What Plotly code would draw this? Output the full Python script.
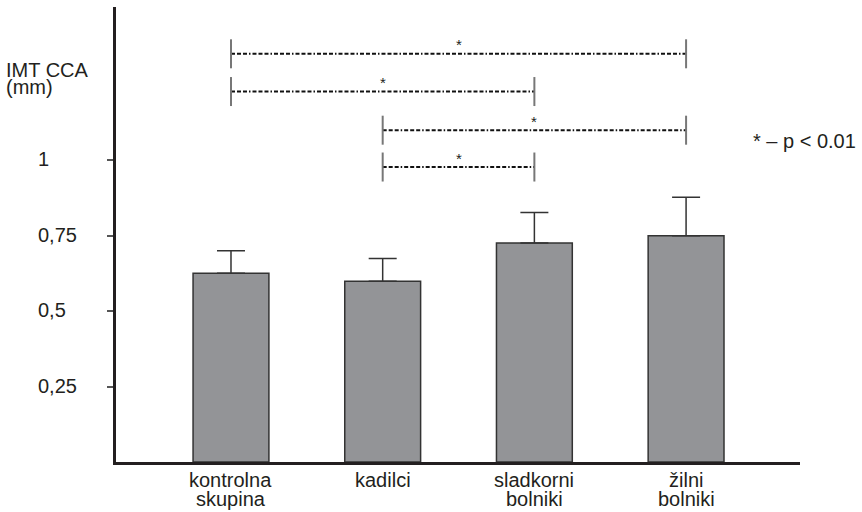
import plotly.graph_objects as go

# ---- data ----
categories = ["kontrolna skupina", "kadilci", "sladkorni bolniki", "žilni bolniki"]
label_lines = [["kontrolna", "skupina"], ["kadilci"], ["sladkorni", "bolniki"], ["žilni", "bolniki"]]
imt_values = [0.625, 0.599, 0.725, 0.749]
imt_errors = [0.075, 0.075, 0.101, 0.128]
y_tick_vals = [0.25, 0.5, 0.75, 1.0]
y_tick_text = ["0,25", "0,5", "0,75", "1"]
sig_pairs = [(0, 3), (0, 2), (1, 3), (1, 2)]
sig_levels = [1.352, 1.227, 1.099, 0.977]
y_title_lines = ["IMT CCA", "(mm)"]
legend_note = "* – p < 0.01"
legend_note_level = 1.064

FONT = "Liberation Sans, Arial, Helvetica, sans-serif"
TXT = "#231f20"
FS = 20

fig = go.Figure()
fig.add_trace(go.Bar(
    x=categories, y=imt_values, width=0.5,
    marker=dict(color="#939497", line=dict(color="#333333", width=1.5)),
    error_y=dict(type="data", symmetric=False, array=imt_errors,
                 arrayminus=[0] * len(imt_errors),
                 color="#333333", thickness=1.5, width=14),
    showlegend=False, hoverinfo="skip",
))

shapes = []
annotations = []
for (a, b), lvl in zip(sig_pairs, sig_levels):
    shapes.append(dict(type="line", xref="x", yref="y", x0=categories[a], x1=categories[b],
                       y0=lvl, y1=lvl,
                       line=dict(color="#111111", width=2, dash="4px,2px,4px,2px,4px,2px,1.5px,2px")))
    for idx in (a, b):
        shapes.append(dict(type="line", xref="x", yref="y", ysizemode="pixel", yanchor=lvl,
                           x0=categories[idx], x1=categories[idx], y0=-14.5, y1=14.5,
                           line=dict(color="#777777", width=2)))
    annotations.append(dict(x=(a + b) / 2, y=lvl, xref="x", yref="y", text="*",
                            showarrow=False, yanchor="middle", yshift=9,
                            font=dict(family=FONT, size=15, color=TXT)))

# y tick labels (left aligned)
for v, t in zip(y_tick_vals, y_tick_text):
    annotations.append(dict(x=-0.117, y=v, xref="paper", yref="y", text=t, showarrow=False,
                            xanchor="left", yanchor="middle", yshift=1,
                            font=dict(family=FONT, size=FS, color=TXT)))

# y title
for i, line in enumerate(y_title_lines):
    annotations.append(dict(x=-0.164, y=0.862 - i * 0.037, xref="paper", yref="paper", text=line,
                            showarrow=False, xanchor="left", yanchor="middle",
                            font=dict(family=FONT, size=FS, color=TXT)))

# x category labels
for cat, lines in zip(categories, label_lines):
    for j, line in enumerate(lines):
        annotations.append(dict(x=cat, y=0, xref="x", yref="paper", text=line, showarrow=False,
                                xanchor="center", yanchor="middle", yshift=-18 - 19 * j,
                                font=dict(family=FONT, size=FS, color=TXT)))

# significance note
annotations.append(dict(x=1.0, y=legend_note_level, xref="paper", yref="y", text=legend_note,
                        showarrow=False, xanchor="left", yanchor="middle", xshift=-49,
                        font=dict(family=FONT, size=FS, color=TXT)))

fig.update_layout(
    width=862, height=512,
    margin=dict(l=116, r=62, t=7, b=50),
    paper_bgcolor="white", plot_bgcolor="white",
    shapes=shapes, annotations=annotations,
    xaxis=dict(range=[-0.758, 3.751], showticklabels=False, ticks="",
               showline=True, linecolor="#231f20", linewidth=3, showgrid=False, zeroline=False),
    yaxis=dict(range=[0, 1.507], tickvals=y_tick_vals, showticklabels=False,
               ticks="outside", ticklen=6, tickwidth=1.5, tickcolor="#555555",
               showline=True, linecolor="#231f20", linewidth=3, showgrid=False, zeroline=False),
    font=dict(family=FONT, size=FS, color=TXT),
)

fig.write_html("out.html", config={"displayModeBar": False},
               post_script="document.body.style.margin='0px';")
